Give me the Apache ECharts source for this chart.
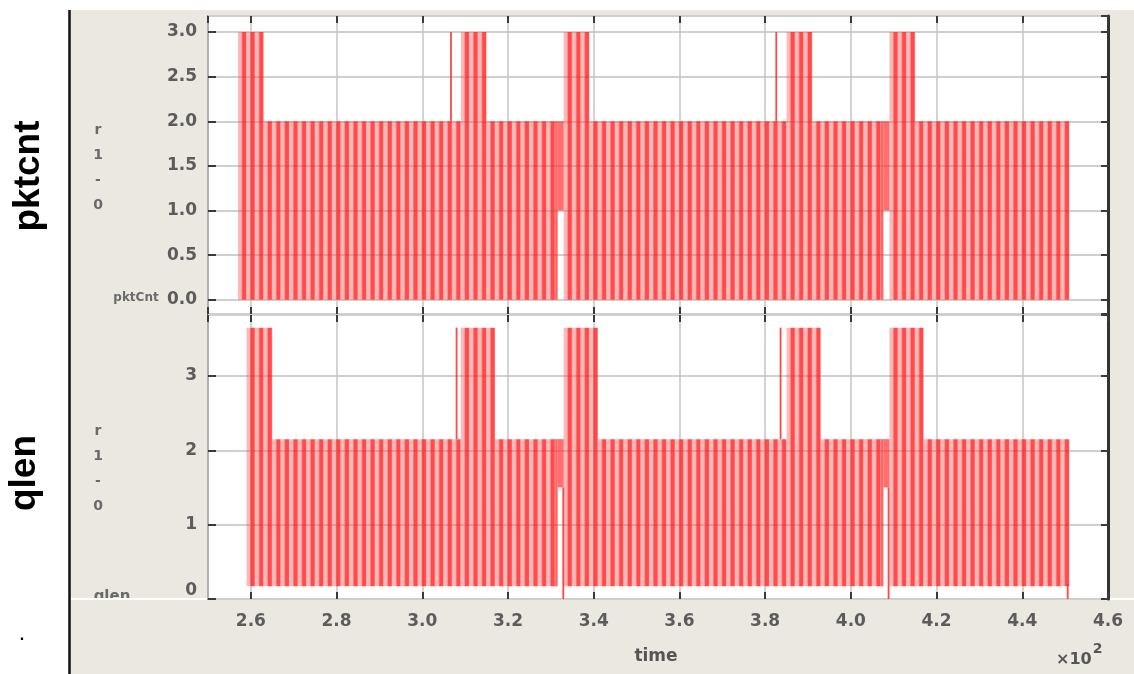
<!DOCTYPE html>
<html>
<head>
<meta charset="utf-8">
<script src="https://cdn.jsdelivr.net/npm/echarts@6/dist/echarts.min.js"></script>
<style>
html,body{margin:0;padding:0;background:#fff;}
#chart{width:1134px;height:674px;}
</style>
</head>
<body>
<div id="chart"></div>
<script>
// ---- data (time in seconds; axis shows time/100, "x10^2") ----
const times = [257,259,261,263,265,267,269,271,273,275,277,279,281,283,285,287,289,291,293,295,
  297,299,301,303,305,307,309,311,313,315,317,319,321,323,325,327,329,331,333,335,
  337,339,341,343,345,347,349,351,353,355,357,359,361,363,365,367,369,371,373,375,
  377,379,381,383,385,387,389,391,393,395,397,399,401,403,405,407,409,411,413,415,
  417,419,421,423,425,427,429,431,433,435,437,439,441,443,445,447,449];
const pktcnt = [3,3,3,2,2,2,2,2,2,2,
  2,2,2,2,2,2,2,2,2,2,
  2,2,2,2,2,2,3,3,3,2,
  2,2,2,2,2,2,2,2,3,3,
  3,2,2,2,2,2,2,2,2,2,
  2,2,2,2,2,2,2,2,2,2,
  2,2,2,2,3,3,3,2,2,2,
  2,2,2,2,2,2,3,3,3,2,
  2,2,2,2,2,2,2,2,2,2,
  2,2,2,2,2,2,2];
const qlen = [null,3.65,3.65,3.65,2.15,2.15,2.15,2.15,2.15,2.15,
  2.15,2.15,2.15,2.15,2.15,2.15,2.15,2.15,2.15,2.15,
  2.15,2.15,2.15,2.15,2.15,2.15,3.65,3.65,3.65,3.65,
  2.15,2.15,2.15,2.15,2.15,2.15,2.15,2.15,3.65,3.65,
  3.65,3.65,2.15,2.15,2.15,2.15,2.15,2.15,2.15,2.15,
  2.15,2.15,2.15,2.15,2.15,2.15,2.15,2.15,2.15,2.15,
  2.15,2.15,2.15,2.15,3.65,3.65,3.65,3.65,2.15,2.15,
  2.15,2.15,2.15,2.15,2.15,2.15,3.65,3.65,3.65,3.65,
  2.15,2.15,2.15,2.15,2.15,2.15,2.15,2.15,2.15,2.15,
  2.15,2.15,2.15,2.15,2.15,2.15,2.15];
const gapTimes = [331, 407];      // samples whose lower part is partly empty
const pktGapLow = 1.0;
const qlenGapLow = 1.5;
const qlenBase = 0.17;
const sampleWidth = 2;
// thin isolated stems: [time, low, high]
const pktSpikes = [[306.7, 2, 3], [382.6, 2, 3]];
const qlenSpikes = [[308.0, 2.15, 3.65], [383.6, 2.15, 3.65], [332.9, 0, 1.5], [408.8, 0, 1.5], [450.6, 0, 0.2]];

// ---- build series data ----
const pktData = times.map((t, i) => [t, gapTimes.includes(t) ? pktGapLow : 0, pktcnt[i], 0]);
const qlenData = times.map((t, i) => qlen[i] == null ? null :
  [t, gapTimes.includes(t) ? qlenGapLow : qlenBase, qlen[i], qlenBase]).filter(d => d);

const stripeFill = new echarts.graphic.LinearGradient(0, 0, 1, 0, [
  {offset: 0, color: 'rgba(255,70,70,0.38)'},
  {offset: 0.36, color: 'rgba(255,70,70,0.38)'},
  {offset: 0.55, color: 'rgba(255,30,30,0.8)'},
  {offset: 0.88, color: 'rgba(255,30,30,0.8)'},
  {offset: 1, color: 'rgba(255,60,60,0.5)'}
]);

function renderBar(params, api) {
  const t = api.value(0), lo = api.value(1), hi = api.value(2), base = api.value(3);
  if (isNaN(hi)) return null;
  const a = api.coord([t, lo]);
  const b = api.coord([t + sampleWidth, hi]);
  const w = b[0] - a[0];
  if (lo > base + 1e-9) {
    // partly empty sample: first 30% full height, remainder starts at lo
    const c = api.coord([t, base]);
    const split = w * 0.3;
    return {type: 'group', children: [
      {type: 'rect', shape: {x: a[0], y: b[1], width: split, height: c[1] - b[1]},
       style: {fill: 'rgba(255,40,40,0.7)'}},
      {type: 'rect', shape: {x: a[0] + split, y: b[1], width: w - split, height: a[1] - b[1]},
       style: {fill: 'rgba(255,50,50,0.7)'}}
    ]};
  }
  return {
    type: 'rect',
    shape: {x: a[0], y: b[1], width: w, height: a[1] - b[1]},
    style: {fill: stripeFill}
  };
}

function renderSpike(params, api) {
  const a = api.coord([api.value(0), api.value(1)]);
  const b = api.coord([api.value(0), api.value(2)]);
  return {type: 'rect', shape: {x: a[0] - 0.9, y: b[1], width: 1.8, height: a[1] - b[1]},
    style: {fill: 'rgba(255,40,40,0.85)'}};
}

const labelFont = {color: '#5c5c5c', fontSize: 17, fontWeight: 'bold', fontFamily: 'DejaVu Sans'};
const tickStyle = {color: '#3a3a3a', width: 2};
const splitStyle = {color: '#cfcfcf', width: 2};

function xAxisCfg(grid, pos, opts) {
  return Object.assign({
    type: 'value', gridIndex: grid, position: pos, min: 250, max: 460, splitNumber: 10,
    axisLine: {show: false, onZero: false},
    axisTick: {show: true, inside: true, length: 7, lineStyle: tickStyle},
    axisLabel: {show: false},
    splitLine: {show: false}
  }, opts || {});
}

const chart = echarts.init(document.getElementById('chart'), null, {renderer: 'canvas'});
chart.setOption({
  animation: false,
  backgroundColor: '#ffffff',
  grid: [
    {left: 208, top: 16, width: 900, height: 298, show: true, backgroundColor: '#fff',
     borderColor: '#4a4a4a', borderWidth: 1.5, containLabel: false, outerBoundsMode: 'none'},
    {left: 208, top: 315, width: 900, height: 284, show: true, backgroundColor: '#fff',
     borderColor: '#4a4a4a', borderWidth: 1.5, containLabel: false, outerBoundsMode: 'none'}
  ],
  xAxis: [
    xAxisCfg(0, 'bottom', {splitLine: {show: true, lineStyle: {color: '#c4c4c4', width: 1.5}}}),
    xAxisCfg(0, 'top'),
    xAxisCfg(1, 'bottom', {
      splitLine: {show: true, lineStyle: {color: '#c4c4c4', width: 1.5}},
      axisLabel: Object.assign({show: true, showMinLabel: false, margin: 14,
        formatter: v => (v / 100).toFixed(1)}, labelFont)
    }),
    xAxisCfg(1, 'top')
  ],
  yAxis: [
    {type: 'value', gridIndex: 0, position: 'left', min: -0.16, max: 3.18, splitNumber: 7,
     axisLine: {show: false, onZero: false},
     axisTick: {show: true, inside: true, length: 8, lineStyle: tickStyle},
     axisLabel: Object.assign({showMinLabel: false, showMaxLabel: false, margin: 11,
       formatter: v => v.toFixed(1)}, labelFont),
     splitLine: {show: true, lineStyle: splitStyle}},
    {type: 'value', gridIndex: 0, position: 'right', min: -0.16, max: 3.18, splitNumber: 7,
     axisLine: {show: true, onZero: false, lineStyle: {color: '#333', width: 3}},
     axisTick: {show: true, inside: true, length: 7, lineStyle: tickStyle},
     axisLabel: {show: false}, splitLine: {show: false}},
    {type: 'value', gridIndex: 1, position: 'left', min: 0, max: 3.82, splitNumber: 4,
     axisLine: {show: false, onZero: false},
     axisTick: {show: true, inside: true, length: 8, lineStyle: tickStyle},
     axisLabel: Object.assign({showMaxLabel: false, margin: 11, verticalAlignMinLabel: 'bottom',
       formatter: v => String(Math.round(v))}, labelFont),
     splitLine: {show: true, lineStyle: splitStyle}},
    {type: 'value', gridIndex: 1, position: 'right', min: 0, max: 3.82, splitNumber: 4,
     axisLine: {show: true, onZero: false, lineStyle: {color: '#333', width: 3}},
     axisTick: {show: true, inside: true, length: 7, lineStyle: tickStyle},
     axisLabel: {show: false}, splitLine: {show: false}}
  ],
  series: [
    {name: 'pktCnt', type: 'custom', xAxisIndex: 0, yAxisIndex: 0, renderItem: renderBar,
     encode: {x: 0, y: [1, 2]}, data: pktData, clip: true, silent: true},
    {name: 'pktCntStem', type: 'custom', xAxisIndex: 0, yAxisIndex: 0, renderItem: renderSpike,
     encode: {x: 0, y: [1, 2]}, data: pktSpikes, clip: true, silent: true},
    {name: 'qlen', type: 'custom', xAxisIndex: 2, yAxisIndex: 2, renderItem: renderBar,
     encode: {x: 0, y: [1, 2]}, data: qlenData, clip: true, silent: true},
    {name: 'qlenStem', type: 'custom', xAxisIndex: 2, yAxisIndex: 2, renderItem: renderSpike,
     encode: {x: 0, y: [1, 2]}, data: qlenSpikes, clip: true, silent: true}
  ],
  graphic: [
    {type: 'rect', z: -100, silent: true, shape: {x: 70, y: 10, width: 1064, height: 664},
     style: {fill: '#ebe8e2'}},
    {type: 'text', x: 112, y: 597, silent: true,
     style: {text: 'qlen', font: 'bold 15px "DejaVu Sans"',
       fill: '#6a6a6a', align: 'center', verticalAlign: 'middle'}},
    {type: 'rect', z: 50, silent: true, shape: {x: 71, y: 599, width: 136, height: 20},
     style: {fill: '#ebe8e2'}},
    {type: 'line', z: 100, silent: true, shape: {x1: 69.5, y1: 10, x2: 69.5, y2: 674},
     style: {stroke: '#111', lineWidth: 2.5}},
    {type: 'line', z: 100, silent: true, shape: {x1: 71, y1: 599, x2: 207, y2: 599},
     style: {stroke: '#fff', lineWidth: 2}},
    {type: 'line', z: 100, silent: true, shape: {x1: 1110, y1: 599, x2: 1134, y2: 599},
     style: {stroke: '#fff', lineWidth: 2}},
    {type: 'text', x: 29, y: 176, rotation: Math.PI / 2, silent: true,
     style: {text: 'pktcnt', font: 'bold 37px "Liberation Sans", Arial, sans-serif',
       fill: '#000', align: 'center', verticalAlign: 'middle'}},
    {type: 'text', x: 25, y: 473, rotation: Math.PI / 2, silent: true,
     style: {text: 'qlen', font: 'bold 37px "Liberation Sans", Arial, sans-serif',
       fill: '#000', align: 'center', verticalAlign: 'middle'}},
    {type: 'text', x: 22, y: 636, silent: true,
     style: {text: '.', font: 'bold 16px "Liberation Sans", Arial, sans-serif',
       fill: '#000', align: 'center', verticalAlign: 'middle'}},
    {type: 'text', x: 98, y: 168, silent: true,
     style: {text: 'r\n1\n-\n0', font: 'bold 14px "DejaVu Sans"', lineHeight: 25,
       fill: '#6a6a6a', align: 'center', verticalAlign: 'middle'}},
    {type: 'text', x: 98, y: 469, silent: true,
     style: {text: 'r\n1\n-\n0', font: 'bold 14px "DejaVu Sans"', lineHeight: 25,
       fill: '#6a6a6a', align: 'center', verticalAlign: 'middle'}},
    {type: 'text', x: 136, y: 298, silent: true,
     style: {text: 'pktCnt', font: 'bold 12px "DejaVu Sans"',
       fill: '#6a6a6a', align: 'center', verticalAlign: 'middle'}},
    {type: 'text', x: 656, y: 657, silent: true,
     style: {text: 'time', font: 'bold 17px "DejaVu Sans"',
       fill: '#555', align: 'center', verticalAlign: 'middle'}},
    {type: 'text', x: 1056, y: 655, silent: true,
     style: {text: '{a|×10}{b|2}', align: 'left', verticalAlign: 'middle',
       rich: {a: {font: 'bold 16px "DejaVu Sans"', fill: '#555', verticalAlign: 'bottom'},
              b: {font: 'bold 14px "DejaVu Sans"', fill: '#555', padding: [0, 0, 11, 1]}}}}
  ]
});
</script>
</body>
</html>
